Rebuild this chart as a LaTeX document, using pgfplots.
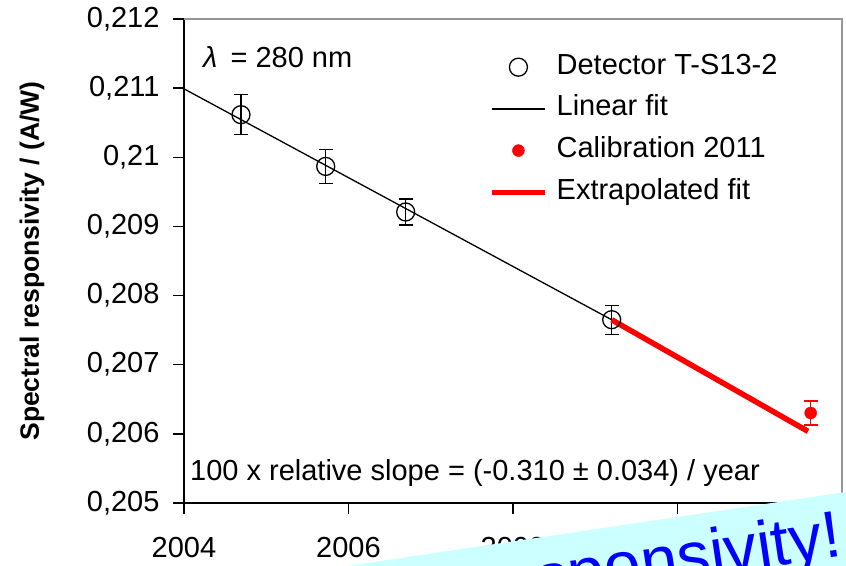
\documentclass[border=0pt]{standalone}
\usepackage{pgfplots}
\pgfplotsset{compat=1.18}
\usepackage{fontspec}
\setmainfont{Liberation Sans}
\definecolor{lightcyan}{RGB}{204,255,255}
\definecolor{bordergray}{RGB}{150,150,150}
\definecolor{pureblue}{RGB}{0,0,255}
\definecolor{purered}{RGB}{255,0,0}
\pgfplotstableread{
x y e
2004.693 0.210616 0.000289
2005.723 0.209868 0.000246
2006.695 0.209209 0.000188
2009.200 0.207651 0.000210
}\detector
\pgfplotstableread{
x y e
2011.619 0.206302 0.000174
}\calib
\begin{document}
\begin{tikzpicture}
\useasboundingbox (0,0) rectangle (846bp,566bp);
\clip (0,0) rectangle (846bp,566bp);
\begin{axis}[
  at={(184bp,63bp)}, anchor=south west,
  scale only axis, width=658bp, height=484bp,
  xmin=2004, xmax=2012, ymin=0.205, ymax=0.212,
  clip=false,
  axis lines*=left,
  xtick pos=bottom, ytick pos=left,
  axis line style={line width=1.3bp},
  xtick={2004,2006,2008,2010,2012},
  ytick={0.205,0.206,0.207,0.208,0.209,0.21,0.211,0.212},
  tick align=outside, major tick length=11bp,
  tick style={line width=1.3bp, black},
  scaled y ticks=false, scaled x ticks=false,
  tick label style={font=\fontsize{29bp}{34bp}\selectfont},
  yticklabel style={xshift=-10bp, /pgf/number format/.cd, fixed, precision=3, use comma, assume math mode=true},
  xticklabel style={yshift=-20bp, /pgf/number format/.cd, 1000 sep={}, assume math mode=true},
  ylabel={\bfseries Spectral responsivity / (A/W)},
  ylabel style={at={(axis description cs:-0.231,0.5)}, anchor=center, font=\fontsize{26.5bp}{30bp}\selectfont},
  legend image code/.code={\draw[mark repeat=2,mark phase=2,#1] plot coordinates {(0bp,0bp) (26.5bp,0bp) (53bp,0bp)};},
  legend style={draw=none, fill=none, at={(axis description cs:0.4635,0.9277)}, anchor=north west,
    inner sep=0pt, row sep=15.7bp, column sep=9bp,
    nodes={inner sep=0pt, text height=20bp, text depth=6bp},
    font=\fontsize{29bp}{34bp}\selectfont},
  legend cell align=left,
]
\addplot[only marks, black, mark=o, mark size=9bp, mark options={line width=1.3bp, black},
  error bars/.cd, y dir=both, y explicit,
  error bar style={line width=1.3bp, black},
  error mark options={rotate=90, mark size=7bp, line width=1.3bp, black}]
  table[x=x, y=y, y error=e] {\detector};
\addlegendentry{Detector T-S13-2}
\addplot[black, line width=1.3bp, no marks] coordinates {(2004,0.21099) (2009.2,0.20765)};
\addlegendentry{Linear fit}
\addplot[only marks, purered, mark=*, mark size=6bp, mark options={purered},
  error bars/.cd, y dir=both, y explicit,
  error bar style={line width=1.3bp, purered},
  error mark options={rotate=90, mark size=7bp, line width=1.3bp, purered}]
  table[x=x, y=y, y error=e] {\calib};
\addlegendentry{Calibration 2011}
\addplot[purered, line width=5.5bp, no marks] coordinates {(2009.2,0.20765) (2011.587,0.206036)};
\addlegendentry{Extrapolated fit}
\draw[bordergray, line width=1.3bp] (rel axis cs:0,1) -- (rel axis cs:1,1) -- (rel axis cs:1,0);
\node[anchor=base west, inner sep=0pt, font=\fontsize{29bp}{34bp}\selectfont] at (axis description cs:0.0289,0.9008) {\textit{λ}\hspace{0.45em}= 280 nm};
\node[anchor=base west, inner sep=0pt, font=\fontsize{29bp}{34bp}\selectfont] at (axis description cs:0.0091,0.0475) {100 x relative slope = (-0.310 ± 0.034) / year};
\end{axis}
\fill[lightcyan] (347bp,0bp) -- (846bp,74bp) -- (846bp,0bp) -- cycle;
\node[rotate=8.43, anchor=base east, inner sep=0pt, text=pureblue, font=\fontsize{66bp}{70bp}\selectfont] at (844bp,10bp) {responsivity!};
\end{tikzpicture}
\end{document}
